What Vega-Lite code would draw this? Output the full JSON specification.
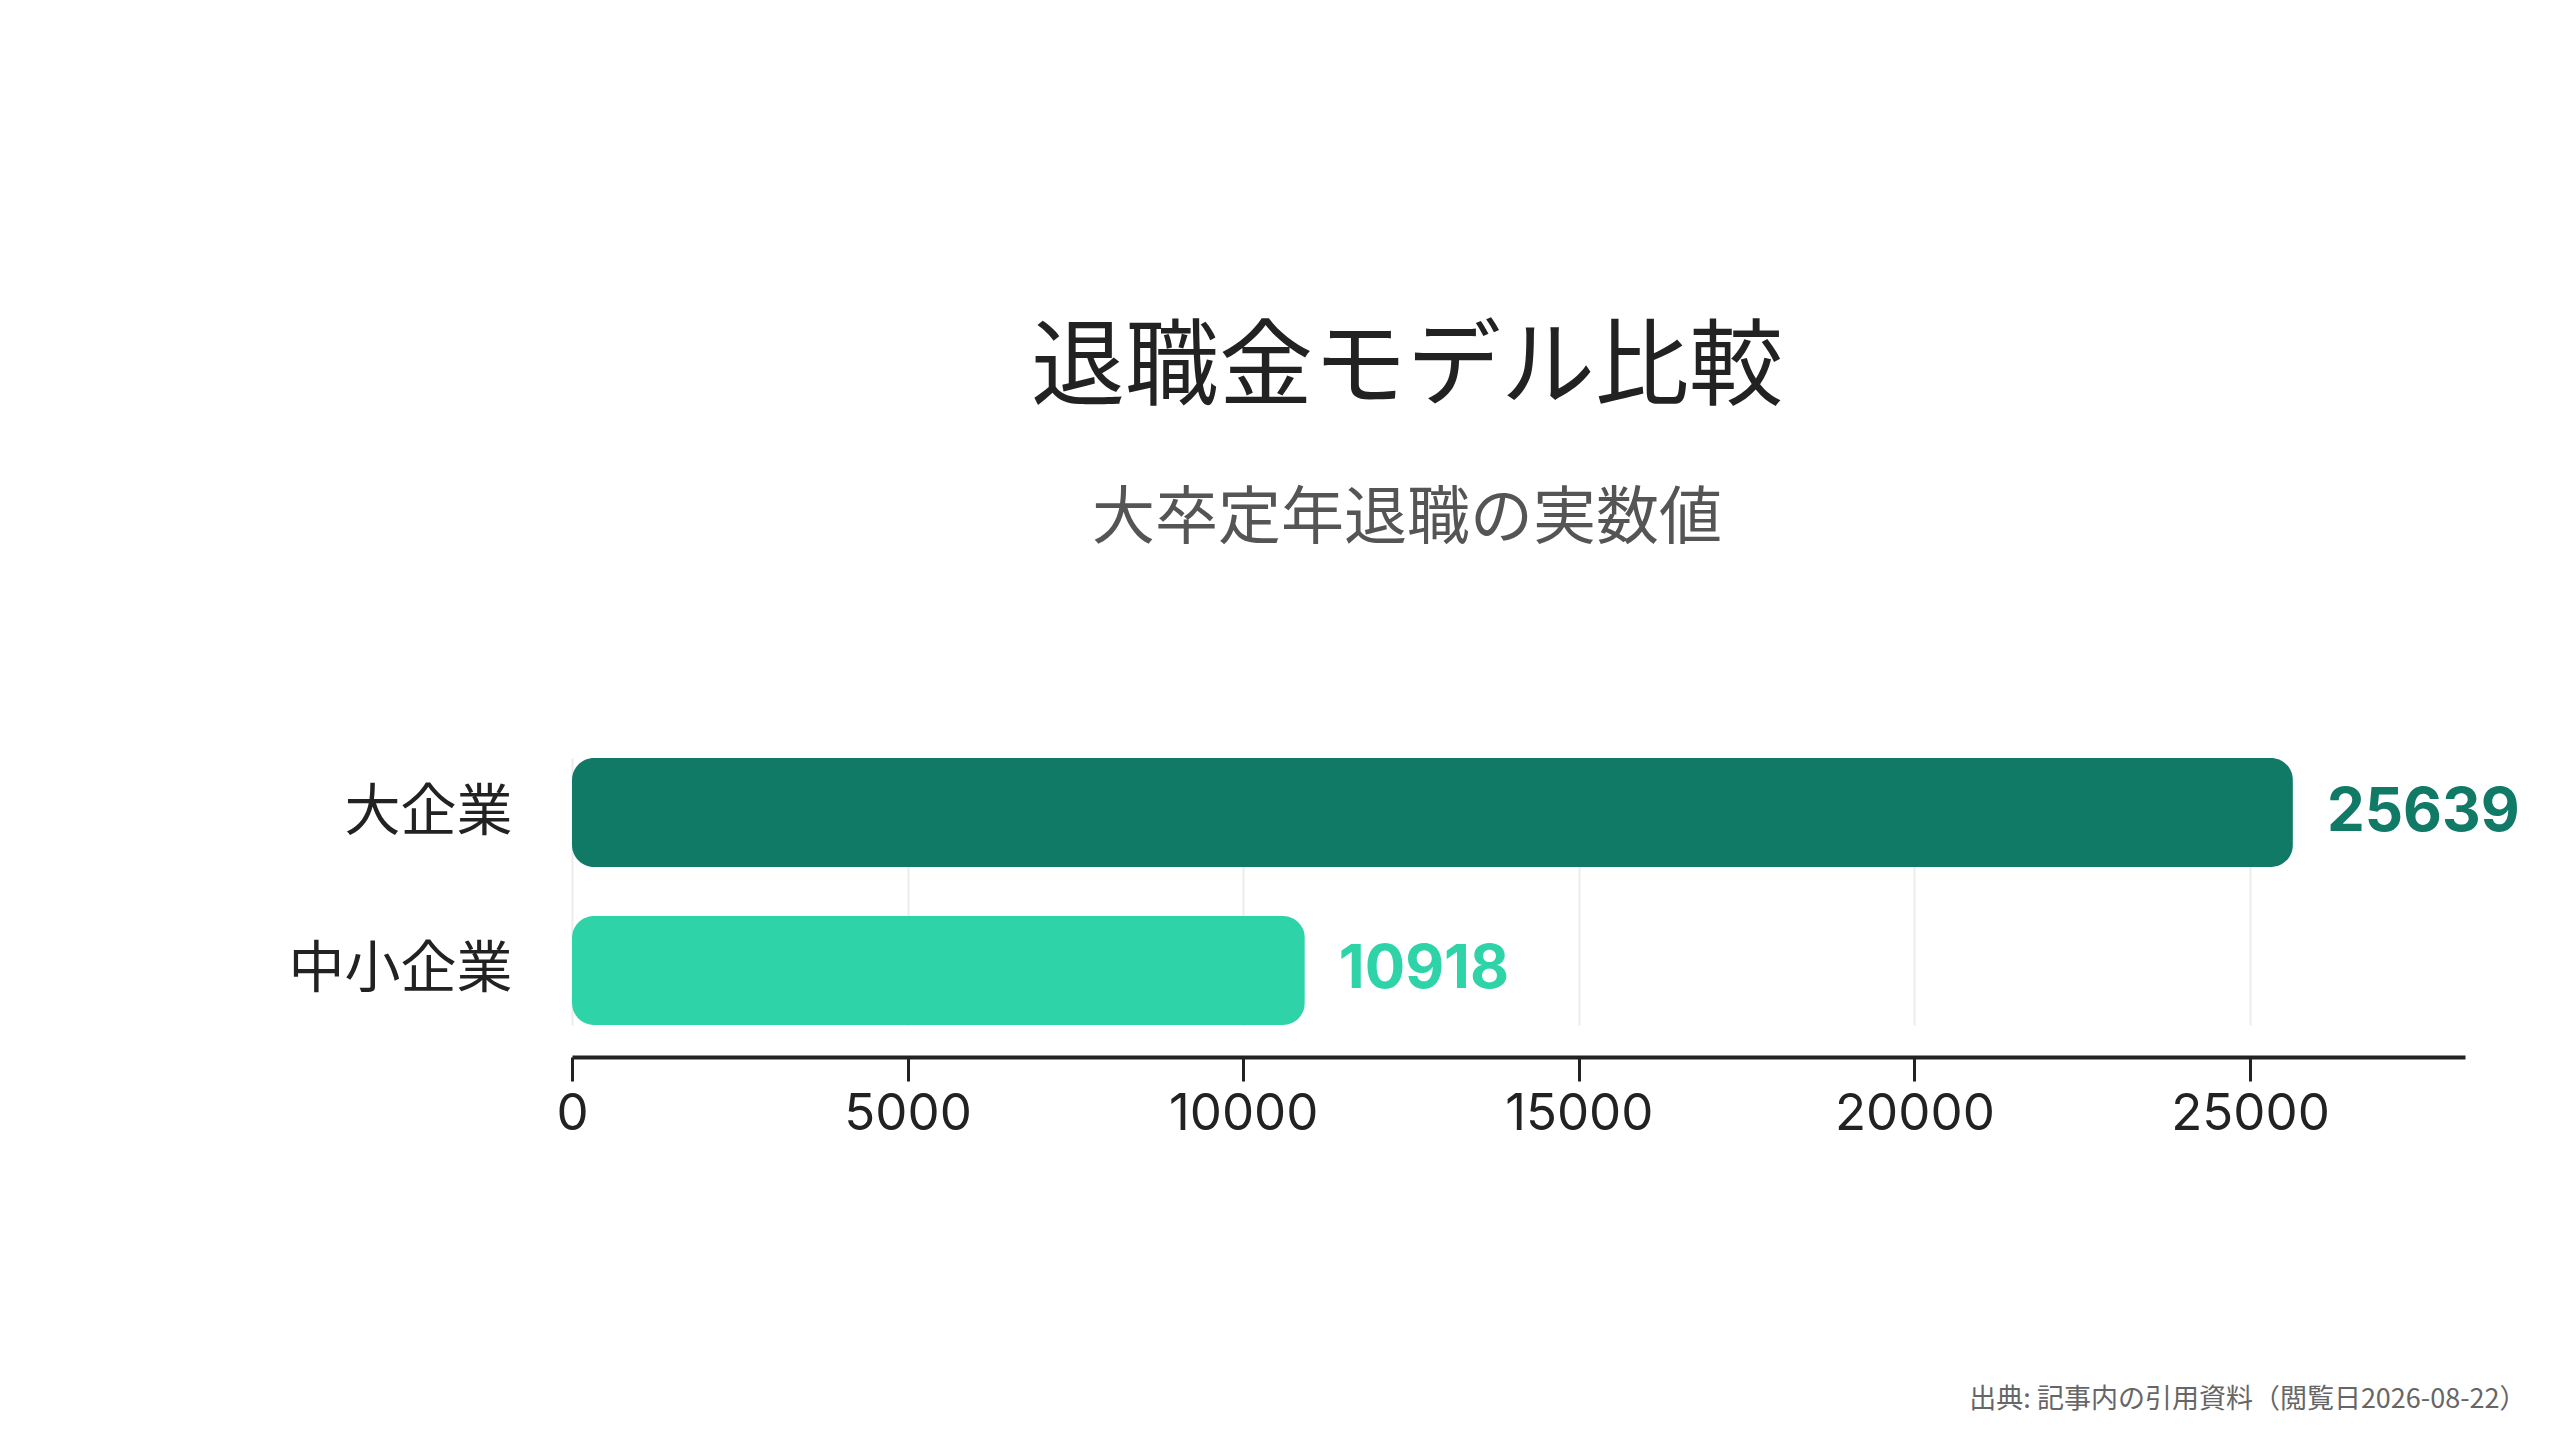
{
  "$schema": "https://vega.github.io/schema/vega-lite/v6.json",
  "autosize": {"type": "none"},
  "padding": {"left": 572, "top": 758, "right": 95, "bottom": 415},
  "width": 1893,
  "height": 267,
  "background": "#ffffff",
  "config": {"view": {"stroke": null}, "font": "Inter, Noto Sans CJK JP"},
  "title": {
    "text": "退職金モデル比較",
    "subtitle": "大卒定年退職の実数値",
    "anchor": "middle",
    "frame": "bounds",
    "font": "Noto Sans CJK JP",
    "fontSize": 94,
    "fontWeight": "normal",
    "color": "#222222",
    "subtitleFont": "Noto Sans CJK JP",
    "subtitleFontSize": 63,
    "subtitleColor": "#555555",
    "subtitlePadding": 70,
    "offset": 206
  },
  "data": {
    "values": [
      {"company": "大企業", "amount": 25639},
      {"company": "中小企業", "amount": 10918}
    ]
  },
  "encoding": {
    "y": {
      "field": "company",
      "type": "nominal",
      "sort": ["大企業", "中小企業"],
      "scale": {"paddingInner": 0.31, "paddingOuter": 0},
      "axis": {
        "title": null,
        "domain": false,
        "ticks": false,
        "tickSize": 0,
        "grid": false,
        "labelFont": "Noto Sans CJK JP",
        "labelFontSize": 56,
        "labelColor": "#222222",
        "labelPadding": 60,
        "labelLimit": 600
      }
    },
    "x": {
      "field": "amount",
      "type": "quantitative",
      "scale": {"domain": [0, 28203], "nice": false},
      "axis": {
        "values": [0, 5000, 10000, 15000, 20000, 25000],
        "format": "d",
        "grid": true,
        "gridColor": "#ececec",
        "gridWidth": 2,
        "offset": 32,
        "domainColor": "#222222",
        "domainWidth": 4,
        "tickColor": "#222222",
        "tickWidth": 3,
        "tickSize": 24,
        "labelFontSize": 51,
        "labelColor": "#222222",
        "labelPadding": 8,
        "labelFlush": false,
        "title": "出典: 記事内の引用資料（閲覧日2026-08-22）",
        "titleFont": "Noto Sans CJK JP",
        "titleFontSize": 27,
        "titleFontWeight": "normal",
        "titleColor": "#666666",
        "titleAnchor": "end",
        "titleAlign": "right",
        "titleBaseline": "alphabetic",
        "titleX": 1954,
        "titleY": 350
      }
    },
    "color": {
      "field": "company",
      "type": "nominal",
      "scale": {"domain": ["大企業", "中小企業"], "range": ["#107A66", "#2ED4A8"]},
      "legend": null
    }
  },
  "layer": [
    {"mark": {"type": "bar", "cornerRadius": 22}},
    {
      "mark": {"type": "text", "align": "left", "baseline": "middle", "dx": 34, "fontSize": 60, "fontWeight": "bold"},
      "encoding": {"text": {"field": "amount", "type": "quantitative", "format": "d"}}
    }
  ]
}
